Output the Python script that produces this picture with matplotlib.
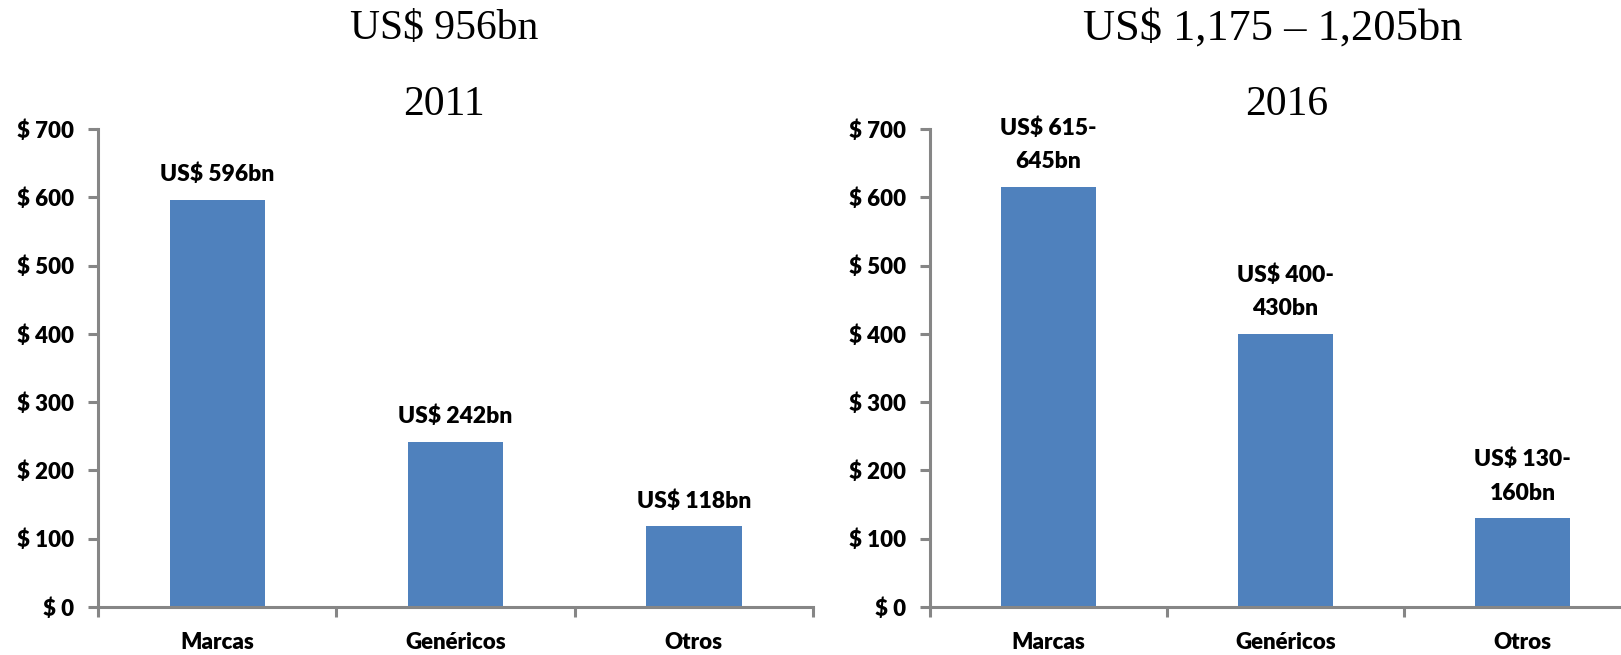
import matplotlib
matplotlib.use("Agg")
import matplotlib.pyplot as plt

# === Dades ===
categories = ["Marcas", "Genéricos", "Otros"]
valors_2011 = [596, 242, 118]
valors_2016 = [615, 400, 130]
etiquetes_2011 = ["US$ 596bn", "US$ 242bn", "US$ 118bn"]
etiquetes_2016 = ["US$ 615-\n645bn", "US$ 400-\n430bn", "US$ 130-\n160bn"]
titols_total = ["US$ 956bn", "US$ 1,175 – 1,205bn"]
anys = ["2011", "2016"]
yticks = [0, 100, 200, 300, 400, 500, 600, 700]

W, H = 1621, 655
BLAU = "#4F81BD"
GRIS = "#868686"
SANS = ["Lato", "DejaVu Sans"]
SERIF = ["Liberation Serif", "DejaVu Serif"]
PES = "heavy"

fig = plt.figure(figsize=(W / 100, H / 100), dpi=100)


def dibuixa(ax, valors, etiquetes):
    x = range(len(categories))
    ax.bar(x, valors, width=0.4, color=BLAU, zorder=2)
    ax.set_xlim(-0.5, len(categories) - 0.5)
    ax.set_ylim(0, 700)
    for s in ["top", "right"]:
        ax.spines[s].set_visible(False)
    for s in ["left", "bottom"]:
        ax.spines[s].set_color(GRIS)
        ax.spines[s].set_linewidth(2.2)
    ax.set_yticks(yticks)
    ax.set_yticklabels([f"$ {v}" for v in yticks], fontfamily=SANS,
                       fontweight=PES, fontsize=16)
    ax.tick_params(axis="y", length=7, width=2.2, color=GRIS, pad=10)
    # ticks a les fronteres de categoria, etiquetes al centre
    ax.set_xticks([i - 0.5 for i in range(len(categories) + 1)])
    ax.set_xticklabels([])
    ax.set_xticks(list(x), minor=True)
    ax.set_xticklabels(categories, minor=True, fontfamily=SANS,
                       fontweight=PES, fontsize=16)
    ax.tick_params(axis="x", which="major", length=7, width=2.2, color=GRIS)
    ax.tick_params(axis="x", which="minor", length=0, pad=18)
    for xi, v, lab in zip(x, valors, etiquetes):
        ax.annotate(lab, (xi, v), xytext=(0, 10.5), textcoords="offset points",
                    ha="center", va="bottom", fontfamily=SANS,
                    fontweight=PES, fontsize=16.5, linespacing=1.75)


y0 = (H - 607) / H
alt = (607 - 129) / H
ax1 = fig.add_axes([98 / W, y0, (813 - 98) / W, alt])
ax2 = fig.add_axes([930 / W, y0, (1641 - 930) / W, alt])
dibuixa(ax1, valors_2011, etiquetes_2011)
dibuixa(ax2, valors_2016, etiquetes_2016)

# titols (total i any) damunt de cada grafic
for cx, total, mida in zip([444, 1273], titols_total, [30, 32]):
    fig.text(cx / W, 1 - 29 / H, total, ha="center", va="center",
             fontfamily=SERIF, fontsize=mida)
for cx, any_ in zip([444, 1287], anys):
    fig.text(cx / W, 1 - 105 / H, any_, ha="center", va="center",
             fontfamily=SERIF, fontsize=30)

fig.savefig("out.png", dpi=100)
